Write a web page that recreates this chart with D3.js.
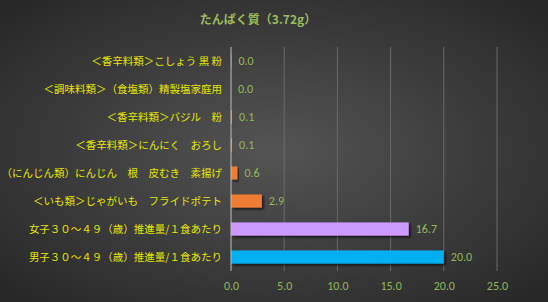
<!DOCTYPE html>
<html>
<head>
<meta charset="utf-8">
<script src="https://cdn.jsdelivr.net/npm/d3@7"></script>
<style>
  html, body { margin: 0; padding: 0; background: #333; }
  svg { display: block; }
</style>
</head>
<body>
<svg width="548" height="302"></svg>
<script>
const title = 'たんぱく質（3.72g）';
const categories = [
  '＜香辛料類＞こしょう 黒 粉',
  '＜調味料類＞（食塩類）精製塩家庭用',
  '＜香辛料類＞バジル　粉',
  '＜香辛料類＞にんにく　おろし',
  '（にんじん類）にんじん　根　皮むき　素揚げ',
  '＜いも類＞じゃがいも　フライドポテト',
  '女子３０～４９（歳）推進量/１食あたり',
  '男子３０～４９（歳）推進量/１食あたり'
];
const values = [0.04, 0, 0.1, 0.1, 0.6, 2.9, 16.7, 20.0];
const barColors = ['#ED7D31', '#ED7D31', '#ED7D31', '#ED7D31', '#ED7D31', '#ED7D31', '#CC99FF', '#00B0F0'];
const ticks = [0, 5, 10, 15, 20, 25];

const svg = d3.select('svg');
const width = 548, height = 302;
const margin = { top: 47, right: 51, bottom: 31, left: 231 };

// background radial gradient
const defs = svg.append('defs');
const bg = defs.append('radialGradient').attr('id', 'bg')
  .attr('cx', '50%').attr('cy', '50%').attr('r', '70%');
bg.append('stop').attr('offset', '0%').attr('stop-color', '#545454');
bg.append('stop').attr('offset', '100%').attr('stop-color', '#262626');

const shadow = defs.append('filter').attr('id', 'shadow')
  .attr('x', '-10%').attr('y', '-30%').attr('width', '130%').attr('height', '180%');
shadow.append('feDropShadow').attr('dx', 2).attr('dy', 2).attr('stdDeviation', 1.2)
  .attr('flood-color', '#000').attr('flood-opacity', 0.6);

svg.append('rect').attr('width', width).attr('height', height).attr('fill', 'url(#bg)');

const x = d3.scaleLinear().domain([0, 25]).range([margin.left, width - margin.right]);
const y = d3.scaleBand().domain(categories).range([margin.top, height - margin.bottom]).paddingInner(0.53).paddingOuter(0.265);

// gridlines
svg.append('g').selectAll('line').data(ticks.slice(1)).join('line')
  .attr('x1', d => x(d)).attr('x2', d => x(d))
  .attr('y1', margin.top).attr('y2', height - margin.bottom)
  .attr('stroke', '#6a6a6a').attr('stroke-width', 1);

// bars
svg.append('g').selectAll('rect').data(values).join('rect')
  .attr('x', x(0))
  .attr('y', (d, i) => y(categories[i]))
  .attr('width', d => x(d) - x(0))
  .attr('height', y.bandwidth())
  .attr('fill', (d, i) => barColors[i])
  .attr('filter', 'url(#shadow)');

// zero axis line
svg.append('line')
  .attr('x1', x(0)).attr('x2', x(0))
  .attr('y1', margin.top).attr('y2', height - margin.bottom)
  .attr('stroke', '#bfbfbf').attr('stroke-width', 1);

// value labels
svg.append('g').selectAll('text').data(values).join('text')
  .attr('x', d => x(d) + 7)
  .attr('y', (d, i) => y(categories[i]) + y.bandwidth() / 2)
  .attr('dy', '0.35em')
  .attr('fill', '#92B75A')
  .attr('font-family', 'Calibri, Carlito, "Liberation Sans", sans-serif')
  .attr('font-size', 12)
  .text(d => d.toFixed(1));

// category labels
svg.append('g').selectAll('text').data(categories).join('text')
  .attr('x', margin.left - 9)
  .attr('y', d => y(d) + y.bandwidth() / 2)
  .attr('dy', '0.35em')
  .attr('text-anchor', 'end')
  .attr('fill', '#E6E600')
  .attr('font-family', '"Noto Sans CJK JP", sans-serif')
  .attr('font-size', 10.5)
  .text(d => d);

// x axis
const xAxis = svg.append('g')
  .attr('transform', `translate(0,${height - margin.bottom})`)
  .call(d3.axisBottom(x).tickValues(ticks).tickFormat(d3.format('.1f')).tickSize(0).tickPadding(10));
xAxis.select('.domain').remove();
xAxis.selectAll('text')
  .attr('fill', '#92B75A')
  .attr('font-family', 'Calibri, Carlito, "Liberation Sans", sans-serif')
  .attr('font-size', 12);

// title
svg.append('text')
  .attr('x', 258).attr('y', 20)
  .attr('text-anchor', 'middle')
  .attr('dy', '0.35em')
  .attr('fill', '#9BBB59')
  .attr('font-family', '"Noto Sans CJK JP", sans-serif')
  .attr('font-weight', 'bold')
  .attr('font-size', 12)
  .text(title);
</script>
</body>
</html>
